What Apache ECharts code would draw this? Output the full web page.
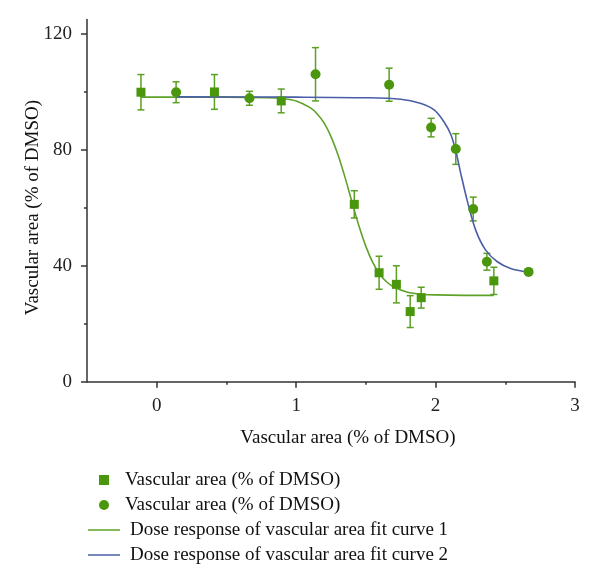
<!DOCTYPE html>
<html>
<head>
<meta charset="utf-8">
<script src="https://cdn.jsdelivr.net/npm/echarts@6/dist/echarts.min.js"></script>
<style>
html,body{margin:0;padding:0;background:#fff;}
#chart{width:600px;height:587px;}
</style>
</head>
<body>
<div id="chart"></div>
<script>
// ---- data ----
const squareX   = [-0.113, 0.414, 0.893, 1.417, 1.595, 1.719, 1.818, 1.897, 2.418];
const squareY   = [99.9, 100.0, 96.9, 61.2, 37.6, 33.6, 24.2, 29.0, 34.8];
const squareErr = [6.1, 6.0, 4.1, 4.7, 5.7, 6.4, 5.5, 3.6, 4.7];

const circleX   = [0.139, 0.665, 1.139, 1.667, 1.968, 2.145, 2.270, 2.368, 2.667];
const circleY   = [99.9, 97.8, 106.1, 102.5, 87.7, 80.3, 59.6, 41.4, 37.9];
const circleErr = [3.6, 2.4, 9.2, 5.7, 3.2, 5.3, 4.1, 2.9, 1.0];

const fit1X = [-0.113, 0.5, 0.8, 0.9, 1.0, 1.1, 1.15, 1.2, 1.25, 1.3, 1.35, 1.4, 1.45, 1.5, 1.55, 1.6, 1.65, 1.7, 1.8, 1.9, 2.0, 2.2, 2.418];
const fit1Y = [98.2, 98.2, 98.0, 97.7, 96.9, 94.6, 92.5, 89.3, 84.6, 78.3, 70.6, 62.1, 53.8, 46.7, 41.1, 37.1, 34.4, 32.7, 30.9, 30.2, 29.95, 29.8, 29.8];

const fit2X = [0.139, 1.0, 1.5, 1.75, 1.89, 1.99, 2.06, 2.11, 2.145, 2.18, 2.227, 2.287, 2.358, 2.443, 2.538, 2.667];
const fit2Y = [98.3, 98.2, 98.0, 97.5, 96.1, 93.8, 89.7, 85.2, 79.6, 72.0, 62.5, 52.4, 45.5, 41.4, 39.1, 37.8];

const xMajorTicks = [0, 1, 2, 3];
const xMinorTicks = [0.5, 1.5, 2.5];
const yMajorTicks = [0, 40, 80, 120];
const yMinorTicks = [20, 60, 100];

const axisTitle = 'Vascular area (% of DMSO)';
const legendNames = [
  'Vascular area (% of DMSO)',
  'Vascular area (% of DMSO)\u200B',
  'Dose response of vascular area fit curve 1',
  'Dose response of vascular area fit curve 2'
];

// ---- styling ----
const FONT = 'Liberation Serif';
const FS = 19;
const MARKER = '#4a960c';
const ERRC = '#5aa022';
const GREEN = '#5fa22a';
const BLUE = '#4a5ea8';
const AXC = '#333';

function zip(a, b, c) { return a.map((v, i) => c ? [v, b[i], c[i]] : [v, b[i]]); }

function errRender(params, api) {
  const x = api.value(0), y = api.value(1), e = api.value(2);
  const top = api.coord([x, y + e]);
  const bot = api.coord([x, y - e]);
  const cap = 3.5;
  const st = { stroke: ERRC, lineWidth: 1.5 };
  return {
    type: 'group',
    children: [
      { type: 'line', shape: { x1: top[0], y1: top[1], x2: bot[0], y2: bot[1] }, style: st },
      { type: 'line', shape: { x1: top[0] - cap, y1: top[1], x2: top[0] + cap, y2: top[1] }, style: st },
      { type: 'line', shape: { x1: bot[0] - cap, y1: bot[1], x2: bot[0] + cap, y2: bot[1] }, style: st }
    ]
  };
}

const chart = echarts.init(document.getElementById('chart'), null, { renderer: 'canvas' });

const labelStyle = { fontFamily: FONT, fontSize: FS, color: '#222' };
const lineIcon = 'path://M0,0L32,0L32,1.5L0,1.5Z';
const squareIcon = 'path://M0,0L10,0L10,10L0,10Z';

chart.setOption({
  animation: false,
  backgroundColor: '#fff',
  textStyle: { fontFamily: FONT },
  grid: { left: 87, top: 19.5, width: 488, height: 362.2, containLabel: false },
  legend: {
    orient: 'vertical',
    left: 83,
    top: 465,
    itemWidth: 32,
    itemHeight: 10,
    itemGap: 5,
    symbolKeepAspect: true,
    textStyle: { fontFamily: FONT, fontSize: FS, color: '#111', lineHeight: 20 },
    data: [
      { name: legendNames[0], icon: squareIcon },
      { name: legendNames[1], icon: 'circle' },
      { name: legendNames[2], icon: lineIcon, textStyle: { padding: [0, 0, 0, 5] } },
      { name: legendNames[3], icon: lineIcon, textStyle: { padding: [0, 0, 0, 5] } }
    ],
    formatter: function (n) { return n.replace('\u200B', ''); }
  },
  xAxis: [
    {
      type: 'value', min: -0.5, max: 3,
      name: axisTitle, nameLocation: 'middle', nameGap: 47, nameMoveOverlap: false,
      nameTextStyle: { fontFamily: FONT, fontSize: FS, color: '#111', padding: [0, 0, 0, 34] },
      axisLine: { show: true, onZero: false, lineStyle: { color: AXC, width: 1.5 } },
      axisTick: { show: true, length: 6, customValues: xMajorTicks, lineStyle: { color: AXC, width: 1.5 } },
      axisLabel: { show: true, customValues: xMajorTicks, margin: 15, ...labelStyle },
      splitLine: { show: false }
    },
    {
      type: 'value', min: -0.5, max: 3, position: 'bottom', gridIndex: 0,
      axisLine: { show: false, onZero: false },
      axisTick: { show: true, length: 3, customValues: xMinorTicks, lineStyle: { color: AXC, width: 1.5 } },
      axisLabel: { show: false },
      splitLine: { show: false }
    }
  ],
  yAxis: [
    {
      type: 'value', min: 0, max: 125,
      name: axisTitle, nameLocation: 'middle', nameGap: 44, nameRotate: 90, nameMoveOverlap: false,
      nameTextStyle: { fontFamily: FONT, fontSize: FS, color: '#111', padding: [0, 14, 0, 0] },
      axisLine: { show: true, onZero: false, lineStyle: { color: AXC, width: 1.5 } },
      axisTick: { show: true, length: 6, customValues: yMajorTicks, lineStyle: { color: AXC, width: 1.5 } },
      axisLabel: { show: true, customValues: yMajorTicks, margin: 15, ...labelStyle },
      splitLine: { show: false }
    },
    {
      type: 'value', min: 0, max: 125, position: 'left', offset: 0, gridIndex: 0,
      axisLine: { show: false, onZero: false },
      axisTick: { show: true, length: 3, customValues: yMinorTicks, lineStyle: { color: AXC, width: 1.5 } },
      axisLabel: { show: false },
      splitLine: { show: false }
    }
  ],
  series: [
    {
      type: 'custom', name: 'errSq', renderItem: errRender,
      data: zip(squareX, squareY, squareErr), z: 2, silent: true
    },
    {
      type: 'custom', name: 'errCi', renderItem: errRender,
      data: zip(circleX, circleY, circleErr), z: 2, silent: true
    },
    {
      type: 'line', name: legendNames[2], data: zip(fit1X, fit1Y),
      smooth: 0.3, showSymbol: false, symbol: 'none',
      lineStyle: { color: GREEN, width: 1.6 }, itemStyle: { color: GREEN }, z: 3
    },
    {
      type: 'line', name: legendNames[3], data: zip(fit2X, fit2Y),
      smooth: 0.3, showSymbol: false, symbol: 'none',
      lineStyle: { color: BLUE, width: 1.6 }, itemStyle: { color: BLUE }, z: 3
    },
    {
      type: 'scatter', name: legendNames[0], data: zip(squareX, squareY),
      symbol: 'rect', symbolSize: 9, itemStyle: { color: MARKER, opacity: 1 }, z: 4
    },
    {
      type: 'scatter', name: legendNames[1], data: zip(circleX, circleY),
      symbol: 'circle', symbolSize: 10, itemStyle: { color: MARKER, opacity: 1 }, z: 4
    }
  ]
});
</script>
</body>
</html>
